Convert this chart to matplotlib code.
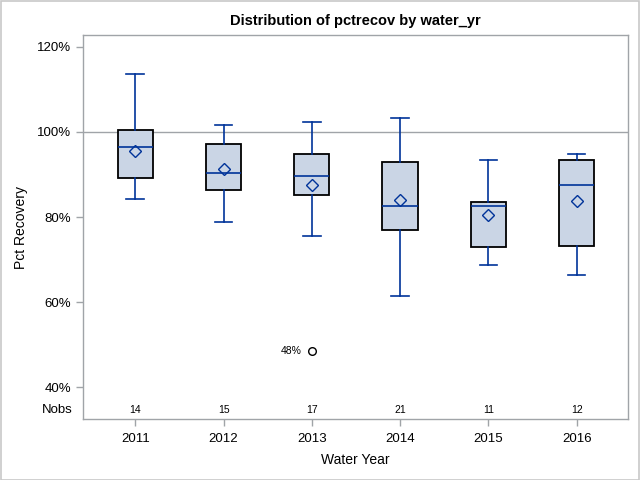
import matplotlib
matplotlib.use("Agg")
import matplotlib.pyplot as plt
from matplotlib.transforms import blended_transform_factory

plt.rcParams['font.family'] = ['Liberation Sans', 'DejaVu Sans']

years = ['2011', '2012', '2013', '2014', '2015', '2016']
whis_lo = [84.3, 78.8, 75.6, 61.4, 68.7, 66.3]
q1 = [89.1, 86.3, 85.1, 76.9, 72.9, 73.1]
median = [96.4, 90.4, 89.6, 82.5, 82.5, 87.5]
mean = [95.5, 91.3, 87.5, 84.0, 80.4, 83.8]
q3 = [100.4, 97.1, 94.8, 92.9, 83.5, 93.4]
whis_hi = [113.7, 101.6, 102.3, 103.3, 93.4, 94.9]
outliers = [[], [], [48.4], [], [], []]
nobs = [14, 15, 17, 21, 11, 12]
yticks = [40, 60, 80, 100, 120]

blue = '#003399'
fill = '#CAD5E5'
gray = '#A0A4A8'

fig = plt.figure(figsize=(6.4, 4.8), dpi=100)
fig.patches.append(plt.Rectangle((0.001, 0.001), 0.997, 0.997, transform=fig.transFigure,
                                 fill=False, edgecolor='#C8C8C8', linewidth=1.2))
ax = fig.add_axes([0.130, 0.127, 0.851, 0.800])

stats = []
for i in range(len(years)):
    stats.append(dict(whislo=whis_lo[i], q1=q1[i], med=median[i], mean=mean[i],
                      q3=q3[i], whishi=whis_hi[i], fliers=outliers[i]))
pos = list(range(len(years)))
ax.axhline(100, color=gray, linewidth=1.0, zorder=1)
ax.bxp(stats, positions=pos, widths=0.40, showmeans=True, patch_artist=True,
       boxprops=dict(facecolor=fill, edgecolor='black', linewidth=1.3),
       whiskerprops=dict(color=blue, linewidth=1.2),
       capprops=dict(color=blue, linewidth=1.2),
       capwidths=0.20,
       medianprops=dict(color=blue, linewidth=1.2),
       meanprops=dict(marker='D', markerfacecolor='none', markeredgecolor=blue,
                      markersize=6.5, markeredgewidth=1.0),
       flierprops=dict(marker='o', markerfacecolor='none', markeredgecolor='black',
                       markersize=5.5, markeredgewidth=1.0),
       zorder=2)

for i, outs in enumerate(outliers):
    for v in outs:
        ax.text(pos[i] - 0.12, v, f'{v:.0f}%', ha='right', va='center', fontsize=7.5)

ax.set_xlim(-0.59, 5.58)
ax.set_ylim(32.5, 122.8)
ax.set_yticks(yticks)
ax.set_yticklabels([f'{t}%' for t in yticks])
ax.set_xticks(pos)
ax.set_xticklabels(years)
ax.tick_params(axis='both', colors=gray, labelcolor='black', labelsize=9.5, length=5, width=1)
ax.tick_params(axis='x', pad=5)

for s in ax.spines.values():
    s.set_color(gray)
    s.set_linewidth(1.0)

trans = blended_transform_factory(ax.transData, ax.transAxes)
for i, n in enumerate(nobs):
    ax.text(pos[i], 0.024, str(n), transform=trans, ha='center', va='center', fontsize=7.5)
ax.text(-0.02, 0.024, 'Nobs', transform=ax.transAxes, ha='right', va='center', fontsize=9.5)

ax.set_xlabel('Water Year', fontsize=10, labelpad=6)
ax.set_ylabel('Pct Recovery', fontsize=10, labelpad=7)
ax.set_title('Distribution of pctrecov by water_yr', fontsize=10.5, fontweight='bold', pad=7)

fig.savefig('out.png', dpi=100)
